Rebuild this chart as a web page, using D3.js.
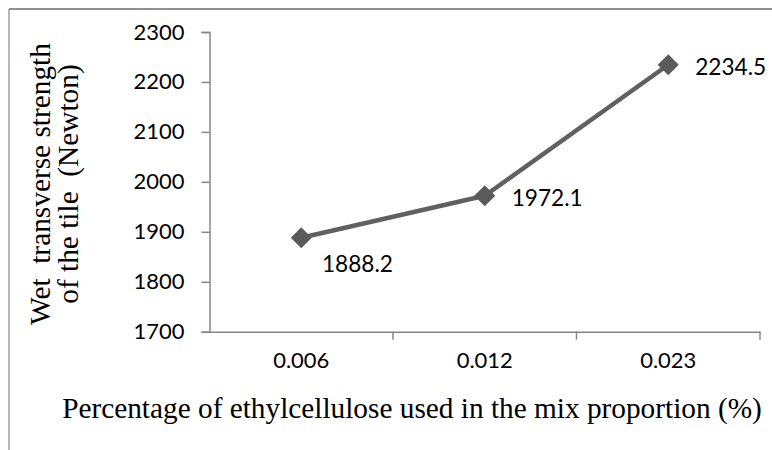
<!DOCTYPE html>
<html>
<head>
<meta charset="utf-8">
<script src="https://cdn.jsdelivr.net/npm/d3@7"></script>
<style>
html,body{margin:0;padding:0;background:#fff;}
svg{display:block;}
text{white-space:pre;}
</style>
</head>
<body>
<svg id="chart" width="772" height="450"></svg>
<script>
const categories = ["0.006", "0.012", "0.023"];
const values = [1888.2, 1972.1, 2234.5];
const labelPlacement = ["below", "right", "right"];
const yTicks = [1700, 1800, 1900, 2000, 2100, 2200, 2300];
const xTitle = "Percentage of ethylcellulose used in the mix proportion (%)";
const yTitleLines = ["Wet  transverse strength", "of the tile  (Newton)"];

const svg = d3.select("#chart");
const W = 772, H = 450;
const plot = {left: 209.5, right: 760, top: 32, bottom: 331.7};
const sansFont = "Lato, 'Open Sans', sans-serif";
const serifFont = "'Liberation Serif', 'DejaVu Serif', serif";

// fit font size to target width
function fitSize(str, family, target) {
  const t = svg.append("text").attr("font-family", family).attr("font-size", 100).text(str);
  const w = t.node().getComputedTextLength();
  t.remove();
  return 100 * target / w;
}
const tickSize = fitSize("2300", sansFont, 51);
const labelSize = fitSize("1888.2", sansFont, 71);
const xTitleSize = fitSize(xTitle, serifFont, 700);
const yTitleSize = fitSize(yTitleLines[0], serifFont, 282);

// outer frame
svg.append("line").attr("x1", 9).attr("y1", 9).attr("x2", W).attr("y2", 9)
  .attr("stroke", "#222").attr("stroke-width", 1);
svg.append("line").attr("x1", 9).attr("y1", 9).attr("x2", 9).attr("y2", H)
  .attr("stroke", "#888").attr("stroke-width", 1.2);

const x = d3.scaleBand().domain(categories).range([plot.left, plot.right]);
const y = d3.scaleLinear().domain([1700, 2300]).range([plot.bottom, plot.top]);

// Y axis
const yAxis = svg.append("g").attr("transform", `translate(${plot.left},0)`)
  .call(d3.axisLeft(y).tickValues(yTicks).tickSize(8).tickPadding(17).tickFormat(d3.format("d")));
yAxis.select(".domain").attr("stroke", "#868686").attr("stroke-width", 1.5);
yAxis.selectAll(".tick line").attr("stroke", "#868686").attr("stroke-width", 1.5);
yAxis.selectAll(".tick text").attr("font-family", sansFont).attr("font-size", tickSize).attr("fill", "#000");

// X axis
const xAxis = svg.append("g").attr("transform", `translate(0,${plot.bottom})`)
  .call(d3.axisBottom(x).tickSize(0).tickPadding(21));
xAxis.select(".domain").attr("stroke", "#868686").attr("stroke-width", 1.5);
xAxis.selectAll(".tick text").attr("font-family", sansFont).attr("font-size", tickSize).attr("fill", "#000");
// category boundary tick marks
const bounds = categories.map(c => x(c) + x.bandwidth());
xAxis.selectAll(".bound").data(bounds).enter().append("line")
  .attr("x1", d => d).attr("x2", d => d).attr("y1", 0).attr("y2", 8)
  .attr("stroke", "#868686").attr("stroke-width", 1.5);

// line series
const pts = categories.map((c, i) => ({c, v: values[i], p: labelPlacement[i]}));
const line = d3.line().x(d => x(d.c) + x.bandwidth() / 2).y(d => y(d.v));
svg.append("path").datum(pts).attr("d", line)
  .attr("fill", "none").attr("stroke", "#606060").attr("stroke-width", 4.5).attr("stroke-linejoin", "round");

svg.selectAll(".mk").data(pts).enter().append("path")
  .attr("transform", d => `translate(${x(d.c) + x.bandwidth() / 2},${y(d.v)})`)
  .attr("d", "M0,-10.5L10.5,0L0,10.5L-10.5,0Z")
  .attr("fill", "#5a5a5a");

// data labels
svg.selectAll(".dl").data(pts).enter().append("text")
  .attr("x", d => x(d.c) + x.bandwidth() / 2 + (d.p === "below" ? 20.7 : 27))
  .attr("y", d => y(d.v) + (d.p === "below" ? 34.7 : 10.5))
  .attr("font-family", sansFont).attr("font-size", labelSize).attr("fill", "#000")
  .text(d => d.v.toFixed(1));

// X title
svg.append("text").attr("x", 412).attr("y", 418).attr("text-anchor", "middle")
  .attr("font-family", serifFont).attr("font-size", xTitleSize).attr("fill", "#000")
  .text(xTitle);

// Y title
const yt = svg.append("text").attr("transform", "translate(0,184) rotate(-90)")
  .attr("text-anchor", "middle").attr("font-family", serifFont).attr("font-size", yTitleSize).attr("fill", "#000");
yTitleLines.forEach((l, i) => yt.append("tspan").attr("x", 0).attr("y", i === 0 ? 50 : 78).text(l));
</script>
</body>
</html>
